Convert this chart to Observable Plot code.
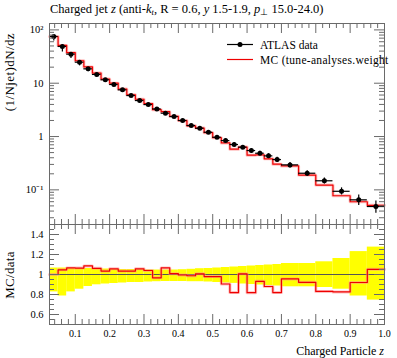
<!DOCTYPE html>
<html><head><meta charset="utf-8">
<script src="https://cdn.jsdelivr.net/npm/d3@7"></script>
<script src="https://cdn.jsdelivr.net/npm/@observablehq/plot@0.6"></script>
<style>
body{margin:0;background:#fff;}
#wrap{position:relative;width:397px;height:358px;overflow:hidden;font-family:"Liberation Serif",serif;}
#wrap svg{position:absolute;left:0;}
</style></head><body><div id="wrap"></div>
<script>
// ---- data ----
const binLo = [0.025,0.05,0.075,0.1,0.125,0.15,0.175,0.2,0.225,0.25,0.275,0.3,0.325,0.35,0.375,0.4,0.425,0.45,0.475,0.5,0.525,0.55,0.575,0.6,0.625,0.65,0.675,0.7,0.75,0.8,0.85,0.9,0.95];
const binHi = [0.05,0.075,0.1,0.125,0.15,0.175,0.2,0.225,0.25,0.275,0.3,0.325,0.35,0.375,0.4,0.425,0.45,0.475,0.5,0.525,0.55,0.575,0.6,0.625,0.65,0.675,0.7,0.75,0.8,0.85,0.9,0.95,1.0];
const dataY = [75.2,48.9,35.1,24.8,18.6,14.6,11.6,9.46,7.51,5.88,4.73,3.98,3.30,2.74,2.37,2.00,1.61,1.43,1.205,0.97,0.84,0.708,0.631,0.546,0.486,0.434,0.370,0.294,0.205,0.148,0.094,0.065,0.0487];
const errLoRel = [0.826,0.785,0.826,0.853,0.880,0.897,0.905,0.910,0.915,0.920,0.920,0.925,0.928,0.930,0.930,0.930,0.928,0.928,0.925,0.920,0.915,0.911,0.905,0.900,0.895,0.890,0.885,0.877,0.877,0.870,0.853,0.785,0.744];
const errHiRel = [1.065,1.065,1.060,1.060,1.060,1.055,1.055,1.050,1.050,1.050,1.048,1.046,1.045,1.045,1.045,1.048,1.052,1.058,1.060,1.065,1.070,1.075,1.080,1.085,1.090,1.095,1.100,1.110,1.110,1.127,1.160,1.229,1.274];
const mcY = [75.2,51.2,37.4,26.4,20.2,15.5,12.0,10.0,7.77,6.08,5.00,4.14,3.19,2.92,2.39,1.99,1.59,1.44,1.18,0.95,0.76,0.58,0.635,0.447,0.453,0.382,0.303,0.281,0.189,0.123,0.0776,0.0598,0.0512];
const xMajorTicks = [0.1,0.2,0.3,0.4,0.5,0.6,0.7,0.8,0.9,1.0];
const xTickLabels = ["0.1","0.2","0.3","0.4","0.5","0.6","0.7","0.8","0.9","1.0"];
const yMajorTicks = [0.1,1,10,100];
const yTickLabels = ["10\u207B\u00B9","1","10","10\u00B2"];
const rMajorTicks = [0.6,0.8,1,1.2,1.4];
const rTickLabels = ["0.6","0.8","1","1.2","1.4"];

// ---- layout ----
const W = 397, ML = 49, MR = 13;
const MH = 224, MT = 23;           // main panel svg
const RH = 134, RB = 34;           // ratio panel svg
const C = "#6a6a6a";
const font = {fontFamily:"Liberation Serif", fontSize:"10.5px", background:"transparent", color:"#000", overflow:"visible"};

const rows = binLo.map((lo,i)=>({lo, hi:binHi[i], x:(lo+binHi[i])/2, y:dataY[i],
  yLo:dataY[i]*errLoRel[i], yHi:dataY[i]*errHiRel[i], mc:mcY[i], r:mcY[i]/dataY[i],
  bLo:errLoRel[i], bHi:errHiRel[i]}));
const step = rows.map(d=>({x:d.lo, y:d.mc, r:d.r}));
step.push({x:rows[rows.length-1].hi, y:rows[rows.length-1].mc, r:rows[rows.length-1].r});

const xMinor = d3.range(2,50).map(i=>+(i*0.02).toFixed(2)).filter(v=>Math.abs(v*10-Math.round(v*10))>1e-6);
const yDomain = [0.0224, 131.8];
const yMinor = [];
[0.01,0.1,1,10].forEach(dec=>{for(let k=2;k<=9;k++){const v=dec*k; if(v>yDomain[0]&&v<yDomain[1]) yMinor.push(v);}});
const rMinor = d3.range(10,31).map(i=>+(i*0.05).toFixed(2)).filter(v=>!rMajorTicks.some(m=>Math.abs(m-v)<1e-6)&&v>0.5&&v<1.5);

function xTickMarks(innerH){
  return [
    Plot.ruleX(xMajorTicks,{insetTop:innerH-10,stroke:C}),
    Plot.ruleX(xMajorTicks,{insetBottom:innerH-10,stroke:C}),
    Plot.ruleX(xMinor,{insetTop:innerH-5,stroke:C}),
    Plot.ruleX(xMinor,{insetBottom:innerH-5,stroke:C})
  ];
}
function yTickMarks(major, minor){
  const innerW = W-ML-MR;
  return [
    Plot.ruleY(major,{insetRight:innerW-10,stroke:C}),
    Plot.ruleY(major,{insetLeft:innerW-10,stroke:C}),
    Plot.ruleY(minor,{insetRight:innerW-5,stroke:C}),
    Plot.ruleY(minor,{insetLeft:innerW-5,stroke:C})
  ];
}

const main = Plot.plot({
  width:W, height:MH, marginLeft:ML, marginRight:MR, marginTop:MT, marginBottom:0,
  style:font,
  x:{domain:[0.025,1.0], axis:null},
  y:{type:"log", domain:yDomain, axis:null},
  marks:[
    Plot.line(step,{x:"x",y:"y",curve:"step-after",stroke:"#ff8c8c",strokeWidth:3,strokeOpacity:0.55}),
    Plot.line(step,{x:"x",y:"y",curve:"step-after",stroke:"#ee0000",strokeWidth:1.2}),
    Plot.ruleX(rows,{x:"x",y1:"yLo",y2:"yHi",stroke:"#000",strokeWidth:1.2}),
    Plot.ruleY(rows,{y:"y",x1:"lo",x2:"hi",stroke:"#000",strokeWidth:1.2}),
    Plot.dot(rows,{x:"x",y:"y",r:2.5,fill:"#000"}),
    ...xTickMarks(MH-MT),
    ...yTickMarks(yMajorTicks, yMinor),
    Plot.frame({stroke:C}),
    Plot.axisY(yMajorTicks,{tickSize:0,tickPadding:6,label:null,tickFormat:d=>yTickLabels[yMajorTicks.indexOf(d)]})
  ]
});

const ratio = Plot.plot({
  width:W, height:RH, marginLeft:ML, marginRight:MR, marginTop:0, marginBottom:RB,
  style:font,
  x:{domain:[0.025,1.0], axis:null},
  y:{domain:[0.5,1.5], axis:null},
  marks:[
    Plot.rect(rows,{x1:"lo",x2:"hi",y1:"bLo",y2:"bHi",fill:"#ffff00"}),
    Plot.ruleY([1],{stroke:"#555"}),
    Plot.line(step,{x:"x",y:"r",curve:"step-after",stroke:"#ff8c8c",strokeWidth:3,strokeOpacity:0.55}),
    Plot.line(step,{x:"x",y:"r",curve:"step-after",stroke:"#ee0000",strokeWidth:1.2}),
    ...xTickMarks(RH-RB),
    ...yTickMarks(rMajorTicks, rMinor),
    Plot.frame({stroke:C}),
    Plot.axisY(rMajorTicks,{tickSize:0,tickPadding:6,label:null,tickFormat:d=>rTickLabels[rMajorTicks.indexOf(d)]}),
    Plot.axisX(xMajorTicks,{tickSize:0,tickPadding:5,fontSize:10,label:null,tickFormat:d=>xTickLabels[xMajorTicks.indexOf(d)]})
  ]
});

const wrap = document.getElementById("wrap");
main.style.top = "0px";
ratio.style.top = MH+"px";
wrap.appendChild(main);
wrap.appendChild(ratio);

const overlay = `
<svg width="397" height="358" style="position:absolute;left:0;top:0;overflow:visible" font-family="Liberation Serif" xmlns="http://www.w3.org/2000/svg">
  <text x="50" y="13" font-size="12.5">Charged jet <tspan font-style="italic">z</tspan> (anti-<tspan font-style="italic">k</tspan><tspan font-size="8.5" font-style="italic" dy="2">t</tspan><tspan dy="-2">, R = 0.6, </tspan><tspan font-style="italic">y</tspan> 1.5-1.9, <tspan font-style="italic">p</tspan><tspan font-size="8.5" dy="2">\u22A5</tspan><tspan dy="-2"> 15.0-24.0)</tspan></text>
  <text transform="translate(14,33) rotate(-90)" text-anchor="end" font-size="13" letter-spacing="0.4">(1/Njet)dN/dz</text>
  <text transform="translate(14,275) rotate(-90)" text-anchor="middle" font-size="13" letter-spacing="0.3">MC/data</text>
  <text x="384" y="355" text-anchor="end" font-size="12">Charged Particle <tspan font-style="italic">z</tspan></text>
  <line x1="227" y1="44.5" x2="253" y2="44.5" stroke="#000" stroke-width="1.2"/>
  <circle cx="240" cy="44.5" r="2.5" fill="#000"/>
  <text x="260" y="48.5" font-size="11.5">ATLAS data</text>
  <line x1="227" y1="59.5" x2="253" y2="59.5" stroke="#ee0000" stroke-width="1.2"/>
  <text x="260" y="63.5" font-size="11.5" letter-spacing="0.3">MC (tune-analyses.weight</text>
</svg>`;
wrap.insertAdjacentHTML("beforeend", overlay);
</script></body></html>
